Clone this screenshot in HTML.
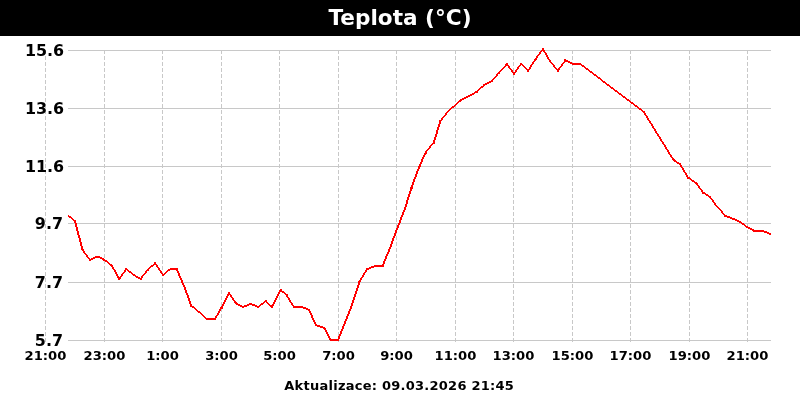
<!DOCTYPE html>
<html lang="cs">
<head>
<meta charset="utf-8">
<title>Teplota (°C)</title>
<style>
html,body{margin:0;padding:0;background:#fff;}
body{width:800px;height:400px;overflow:hidden;position:relative;font-family:"DejaVu Sans","Liberation Sans",sans-serif;font-weight:bold;color:#000;}
#hdr{position:absolute;left:0;top:0;width:800px;height:36px;background:#000;}
#title{position:absolute;left:0;top:0;width:800px;text-align:center;color:#fff;font-size:21.6px;line-height:36px;height:36px;white-space:nowrap;}
svg{position:absolute;left:0;top:0;}
.yl{position:absolute;left:0;width:63.3px;text-align:right;font-size:15.9px;line-height:20px;height:20px;white-space:nowrap;}
.xl{position:absolute;width:80px;text-align:center;font-size:13.15px;line-height:16px;height:16px;top:348px;white-space:nowrap;}
#foot{position:absolute;left:0;width:798.4px;text-align:center;font-size:13px;letter-spacing:0.25px;line-height:16px;top:377.8px;white-space:nowrap;}
</style>
</head>
<body>
<div id="hdr"></div>
<div id="title">Teplota (°C)</div>
<svg width="800" height="400" viewBox="0 0 800 400">
<g stroke="#c8c8c8" stroke-width="1" fill="none" shape-rendering="crispEdges">
<line x1="68" y1="50.5" x2="771" y2="50.5"/>
<line x1="68" y1="108.5" x2="771" y2="108.5"/>
<line x1="68" y1="166.5" x2="771" y2="166.5"/>
<line x1="68" y1="223.5" x2="771" y2="223.5"/>
<line x1="68" y1="282.5" x2="771" y2="282.5"/>
<line x1="68" y1="340.5" x2="771" y2="340.5"/>
</g>
<g stroke="#c8c8c8" stroke-width="1" fill="none" stroke-dasharray="4 2" shape-rendering="crispEdges">
<line x1="45.5" y1="50" x2="45.5" y2="342"/>
<line x1="104.5" y1="50" x2="104.5" y2="342"/>
<line x1="162.5" y1="50" x2="162.5" y2="342"/>
<line x1="221.5" y1="50" x2="221.5" y2="342"/>
<line x1="279.5" y1="50" x2="279.5" y2="342"/>
<line x1="338.5" y1="50" x2="338.5" y2="342"/>
<line x1="396.5" y1="50" x2="396.5" y2="342"/>
<line x1="455.5" y1="50" x2="455.5" y2="342"/>
<line x1="513.5" y1="50" x2="513.5" y2="342"/>
<line x1="572.5" y1="50" x2="572.5" y2="342"/>
<line x1="630.5" y1="50" x2="630.5" y2="342"/>
<line x1="689.5" y1="50" x2="689.5" y2="342"/>
<line x1="747.5" y1="50" x2="747.5" y2="342"/>
</g>
<path d="M74,220h2v2h-2ZM81.5,249h2v2h-2ZM89,259h2v2h-2ZM96.5,255.5h2v2h-2ZM103.4,258.75h2v2h-2ZM110.9,264.6h2v2h-2ZM118.3,278h2v2h-2ZM125.25,268h2v2h-2ZM132.75,274h2v2h-2ZM139.6,277.8h2v2h-2ZM146.5,269h2v2h-2ZM154,262.3h2v2h-2ZM162.1,274h2v2h-2ZM169.6,267.75h2v2h-2ZM175.6,267.75h2v2h-2ZM183.6,286.5h2v2h-2ZM190.3,304.7h2v2h-2ZM198.4,311.25h2v2h-2ZM205.9,318h2v2h-2ZM214,318h2v2h-2ZM220.5,306.5h2v2h-2ZM228,292.2h2v2h-2ZM234.9,302.4h2v2h-2ZM242.3,305.9h2v2h-2ZM249.6,302.75h2v2h-2ZM257.1,305.9h2v2h-2ZM264.6,300.3h2v2h-2ZM271.1,305.9h2v2h-2ZM279.6,288.9h2v2h-2ZM285.5,294h2v2h-2ZM292.8,305.9h2v2h-2ZM300.3,305.9h2v2h-2ZM307.75,308.6h2v2h-2ZM315,324.1h2v2h-2ZM323.3,327h2v2h-2ZM329.6,339h2v2h-2ZM337.1,339h2v2h-2ZM344.4,320.5h2v2h-2ZM351.3,303h2v2h-2ZM358.4,280.9h2v2h-2ZM365.9,268.4h2v2h-2ZM374,265h2v2h-2ZM381.6,265h2v2h-2ZM389,247h2v2h-2ZM396,228h2v2h-2ZM403.8,208h2v2h-2ZM410.5,186.5h2v2h-2ZM418.5,165h2v2h-2ZM424.6,151.5h2v2h-2ZM432.75,141.5h2v2h-2ZM439.4,120h2v2h-2ZM445.25,112.75h2v2h-2ZM452.1,105.9h2v2h-2ZM460.25,99h2v2h-2ZM467.75,95.25h2v2h-2ZM476.2,90.5h2v2h-2ZM483.4,83.8h2v2h-2ZM490.6,80h2v2h-2ZM497.75,72.1h2v2h-2ZM505.9,63h2v2h-2ZM512.9,72.8h2v2h-2ZM520.25,62.75h2v2h-2ZM527.4,69.5h2v2h-2ZM534.5,57.9h2v2h-2ZM542.1,48.2h2v2h-2ZM548.8,60h2v2h-2ZM557,69.6h2v2h-2ZM564.4,59.3h2v2h-2ZM571.5,62.75h2v2h-2ZM579,62.75h2v2h-2ZM642.75,110.9h2v2h-2ZM672.6,159.2h2v2h-2ZM679,163.4h2v2h-2ZM687.1,176.5h2v2h-2ZM695.25,182.1h2v2h-2ZM702.1,191.5h2v2h-2ZM709,195.9h2v2h-2ZM714,203h2v2h-2ZM724.2,214.6h2v2h-2ZM732.1,217.75h2v2h-2ZM739,220.9h2v2h-2ZM745.9,225.9h2v2h-2ZM753.3,229.8h2v2h-2ZM761.6,229.8h2v2h-2Z" fill="#ff0000" stroke="none" shape-rendering="crispEdges"/>
<path d="M68.1,214.5L75,220L75,222L68.1,216.5ZM76,221L83.5,250L81.5,250L74,221ZM83.5,250L91,260L89,260L81.5,250ZM90,259L97.5,255.5L97.5,257.5L90,261ZM97.5,255.5L104.4,258.75L104.4,260.75L97.5,257.5ZM104.4,258.75L111.9,264.6L111.9,266.6L104.4,260.75ZM112.9,265.6L120.3,279L118.3,279L110.9,265.6ZM118.3,279L125.25,269L127.25,269L120.3,279ZM126.25,268L133.75,274L133.75,276L126.25,270ZM133.75,274L140.6,277.8L140.6,279.8L133.75,276ZM139.6,278.8L146.5,270L148.5,270L141.6,278.8ZM147.5,269L155,262.3L155,264.3L147.5,271ZM156,263.3L164.1,275L162.1,275L154,263.3ZM163.1,274L170.6,267.75L170.6,269.75L163.1,276ZM170.6,267.75L176.6,267.75L176.6,269.75L170.6,269.75ZM177.6,268.75L185.6,287.5L183.6,287.5L175.6,268.75ZM185.6,287.5L192.3,305.7L190.3,305.7L183.6,287.5ZM191.3,304.7L199.4,311.25L199.4,313.25L191.3,306.7ZM199.4,311.25L206.9,318L206.9,320L199.4,313.25ZM206.9,318L215,318L215,320L206.9,320ZM214,319L220.5,307.5L222.5,307.5L216,319ZM220.5,307.5L228,293.2L230,293.2L222.5,307.5ZM230,293.2L236.9,303.4L234.9,303.4L228,293.2ZM235.9,302.4L243.3,305.9L243.3,307.9L235.9,304.4ZM243.3,305.9L250.6,302.75L250.6,304.75L243.3,307.9ZM250.6,302.75L258.1,305.9L258.1,307.9L250.6,304.75ZM258.1,305.9L265.6,300.3L265.6,302.3L258.1,307.9ZM265.6,300.3L272.1,305.9L272.1,307.9L265.6,302.3ZM271.1,306.9L279.6,289.9L281.6,289.9L273.1,306.9ZM280.6,288.9L286.5,294L286.5,296L280.6,290.9ZM287.5,295L294.8,306.9L292.8,306.9L285.5,295ZM293.8,305.9L301.3,305.9L301.3,307.9L293.8,307.9ZM301.3,305.9L308.75,308.6L308.75,310.6L301.3,307.9ZM309.75,309.6L317,325.1L315,325.1L307.75,309.6ZM316,324.1L324.3,327L324.3,329L316,326.1ZM325.3,328L331.6,340L329.6,340L323.3,328ZM330.6,339L338.1,339L338.1,341L330.6,341ZM337.1,340L344.4,321.5L346.4,321.5L339.1,340ZM344.4,321.5L351.3,304L353.3,304L346.4,321.5ZM351.3,304L358.4,281.9L360.4,281.9L353.3,304ZM358.4,281.9L365.9,269.4L367.9,269.4L360.4,281.9ZM366.9,268.4L375,265L375,267L366.9,270.4ZM375,265L382.6,265L382.6,267L375,267ZM381.6,266L389,248L391,248L383.6,266ZM389,248L396,229L398,229L391,248ZM396,229L403.8,209L405.8,209L398,229ZM403.8,209L410.5,187.5L412.5,187.5L405.8,209ZM410.5,187.5L418.5,166L420.5,166L412.5,187.5ZM418.5,166L424.6,152.5L426.6,152.5L420.5,166ZM424.6,152.5L432.75,142.5L434.75,142.5L426.6,152.5ZM432.75,142.5L439.4,121L441.4,121L434.75,142.5ZM439.4,121L445.25,113.75L447.25,113.75L441.4,121ZM446.25,112.75L453.1,105.9L453.1,107.9L446.25,114.75ZM453.1,105.9L461.25,99L461.25,101L453.1,107.9ZM461.25,99L468.75,95.25L468.75,97.25L461.25,101ZM468.75,95.25L477.2,90.5L477.2,92.5L468.75,97.25ZM477.2,90.5L484.4,83.8L484.4,85.8L477.2,92.5ZM484.4,83.8L491.6,80L491.6,82L484.4,85.8ZM490.6,81L497.75,73.1L499.75,73.1L492.6,81ZM497.75,73.1L505.9,64L507.9,64L499.75,73.1ZM507.9,64L514.9,73.8L512.9,73.8L505.9,64ZM512.9,73.8L520.25,63.75L522.25,63.75L514.9,73.8ZM521.25,62.75L528.4,69.5L528.4,71.5L521.25,64.75ZM527.4,70.5L534.5,58.9L536.5,58.9L529.4,70.5ZM534.5,58.9L542.1,49.2L544.1,49.2L536.5,58.9ZM544.1,49.2L550.8,61L548.8,61L542.1,49.2ZM550.8,61L559,70.6L557,70.6L548.8,61ZM557,70.6L564.4,60.3L566.4,60.3L559,70.6ZM565.4,59.3L572.5,62.75L572.5,64.75L565.4,61.3ZM572.5,62.75L580,62.75L580,64.75L572.5,64.75ZM580,62.75L643.75,110.9L643.75,112.9L580,64.75ZM644.75,111.9L674.6,160.2L672.6,160.2L642.75,111.9ZM673.6,159.2L680,163.4L680,165.4L673.6,161.2ZM681,164.4L689.1,177.5L687.1,177.5L679,164.4ZM688.1,176.5L696.25,182.1L696.25,184.1L688.1,178.5ZM697.25,183.1L704.1,192.5L702.1,192.5L695.25,183.1ZM703.1,191.5L710,195.9L710,197.9L703.1,193.5ZM711,196.9L716,204L714,204L709,196.9ZM716,204L726.2,215.6L724.2,215.6L714,204ZM725.2,214.6L733.1,217.75L733.1,219.75L725.2,216.6ZM733.1,217.75L740,220.9L740,222.9L733.1,219.75ZM740,220.9L746.9,225.9L746.9,227.9L740,222.9ZM746.9,225.9L754.3,229.8L754.3,231.8L746.9,227.9ZM754.3,229.8L762.6,229.8L762.6,231.8L754.3,231.8ZM762.6,229.8L770.7,233L770.7,235L762.6,231.8Z" fill="#ff0000" stroke="none" shape-rendering="crispEdges"/>
</svg>
<div class="yl" style="top:40.5px;width:64.2px">15.6</div>
<div class="yl" style="top:98.5px;width:64.2px">13.6</div>
<div class="yl" style="top:156.5px;width:64.2px">11.6</div>
<div class="yl" style="top:213.5px;width:63.0px">9.7</div>
<div class="yl" style="top:272.5px;width:63.0px">7.7</div>
<div class="yl" style="top:330.5px;width:63.0px">5.7</div>
<div class="xl" style="left:5.5px">21:00</div>
<div class="xl" style="left:64.5px">23:00</div>
<div class="xl" style="left:122.5px">1:00</div>
<div class="xl" style="left:181.5px">3:00</div>
<div class="xl" style="left:239.5px">5:00</div>
<div class="xl" style="left:298.5px">7:00</div>
<div class="xl" style="left:356.5px">9:00</div>
<div class="xl" style="left:415.5px">11:00</div>
<div class="xl" style="left:473.5px">13:00</div>
<div class="xl" style="left:532.5px">15:00</div>
<div class="xl" style="left:590.5px">17:00</div>
<div class="xl" style="left:649.5px">19:00</div>
<div class="xl" style="left:707.5px">21:00</div>
<div id="foot">Aktualizace: 09.03.2026 21:45</div>
</body>
</html>
